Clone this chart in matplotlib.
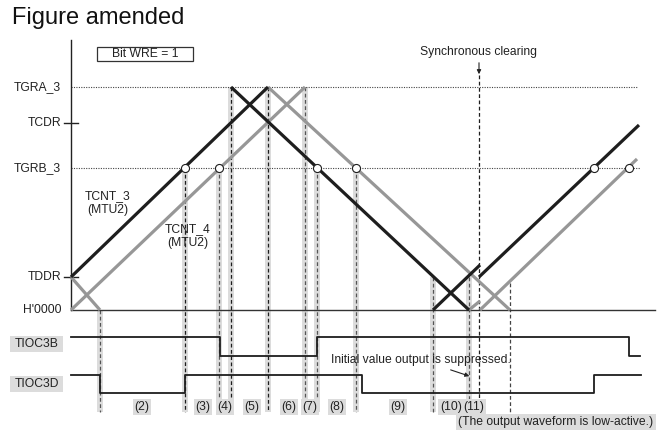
import matplotlib.pyplot as plt
from matplotlib.patches import Rectangle

plt.rcParams['font.family'] = ['Liberation Sans', 'DejaVu Sans']

# =========================
# data (time axis in ticks, counter values in counts)
# =========================

level_names = ["TGRA_3", "TCDR", "TGRB_3", "TDDR", "H'0000"]
level_vals = [223, 187, 142, 33, 0]

# TCNT_3 (black) segments: (t0, t1), (v0, v1)
tcnt3_t = [(0, 197), (160, 398), (362, 409), (408, 568)]
tcnt3_v = [(33, 223), (223, 0), (0, 45), (33, 185)]

# TCNT_4 (gray) segments
tcnt4_t = [(0, 29), (0, 234), (197, 439), (398, 409), (409, 566)]
tcnt4_v = [(33, 0), (0, 223), (223, 0), (0, 9), (0, 151)]

# compare match points on TGRB_3
match_t = [114, 148, 246, 285, 523, 558]

# shaded event bands
band_t = [29, 114, 148, 160, 197, 234, 246, 285, 362, 398]
band_top = [0, 142, 142, 223, 223, 223, 142, 142, 33, 33]
band_dark = [False, True, False, True, True, False, False, False, False, False]

sync_t = 408
end_t = 439

# output waveforms (1 = high)
tioc3b_t = [0, 149, 246, 558, 569]
tioc3b_v = [1, 0, 1, 0, 0]
tioc3d_t = [0, 29, 114, 291, 523, 570]
tioc3d_v = [1, 0, 1, 0, 1, 1]

period_names = ["(2)", "(3)", "(4)", "(5)", "(6)", "(7)", "(8)", "(9)", "(10)", "(11)"]
period_t = [71, 132, 154, 181, 218, 239, 266, 327, 380, 403]

# =========================
# figure
# =========================

BLACK = "#1e1e1e"
GRAY = "#979797"
BAND = "#dcdcdc"
FS = 8.7

fig = plt.figure(figsize=(6.59, 4.32), dpi=100)
ax = fig.add_axes([0, 0, 1, 1])
ax.set_xlim(-71, 588)
ax.set_ylim(-122, 310)
ax.axis("off")

fig.text(12 / 659, 1 - 24 / 432, "Figure amended", fontsize=17,
         va="baseline", ha="left", color="#111111")

band_bottom = -102

# bands + dashed lines
for t, top, dark in zip(band_t, band_top, band_dark):
    ax.add_patch(Rectangle((t - 3, band_bottom), 6, top - band_bottom,
                           facecolor=BAND, edgecolor="none", zorder=0))
    ax.plot([t, t], [top, band_bottom], color=BLACK if dark else "#555555",
            lw=0.9, linestyle=(0, (3, 2)), zorder=1)

ax.plot([sync_t, sync_t], [235, band_bottom], color=BLACK, lw=0.9,
        linestyle=(0, (3, 2)), zorder=1)
ax.plot([end_t, end_t], [27, band_bottom], color="#444444", lw=0.9,
        linestyle=(0, (3, 2)), zorder=1)

# reference levels
ax.plot([0, 566], [level_vals[0]] * 2, color="#444444", lw=0.8,
        linestyle=(0, (1, 1.2)), zorder=1)
ax.plot([0, 569], [level_vals[2]] * 2, color="#444444", lw=0.8,
        linestyle=(0, (1, 1.2)), zorder=1)
ax.plot([0, 584], [0, 0], color="#333333", lw=1.0, zorder=1)
ax.plot([0, 0], [0, 270], color="#222222", lw=1.0, zorder=1)
for v in (level_vals[1], level_vals[3]):
    ax.plot([-7, 7], [v, v], color="#222222", lw=1.0, zorder=1)

for name, v in zip(level_names, level_vals):
    ax.text(-10, v, name, fontsize=FS, ha="right", va="center", color="#222222")

# counters
for t, v in zip(tcnt4_t, tcnt4_v):
    ax.plot(t, v, color=GRAY, lw=2.3, solid_capstyle="butt", zorder=2)
for t, v in zip(tcnt3_t, tcnt3_v):
    ax.plot(t, v, color=BLACK, lw=2.3, solid_capstyle="butt", zorder=3)

ax.plot(match_t, [level_vals[2]] * len(match_t), "o", ms=5.8,
        mfc="white", mec=BLACK, mew=0.8, zorder=4)

ax.text(37, 107, "TCNT_3\n(MTU2)", fontsize=FS, ha="center", va="center",
        color="#222222", linespacing=1.3)
ax.text(117, 74, "TCNT_4\n(MTU2)", fontsize=FS, ha="center", va="center",
        color="#222222", linespacing=1.3)

# WRE box
ax.add_patch(Rectangle((26, 249), 96, 14, facecolor="white",
                       edgecolor="#333333", lw=0.9, zorder=3))
ax.text(74, 256, "Bit WRE = 1", fontsize=FS, ha="center", va="center",
        color="#222222", zorder=4)

# synchronous clearing
ax.text(sync_t, 258, "Synchronous clearing", fontsize=FS, ha="center",
        va="center", color="#222222")
ax.annotate("", xy=(sync_t, 233), xytext=(sync_t, 250),
            arrowprops=dict(arrowstyle="-|>", color="#222222", lw=0.8,
                            mutation_scale=6))

# output waveforms
b_hi, b_lo = -27, -46
d_hi, d_lo = -65, -83
ax.step(tioc3b_t, [b_hi if s else b_lo for s in tioc3b_v], where="post",
        color=BLACK, lw=1.3, zorder=3)
ax.step(tioc3d_t, [d_hi if s else d_lo for s in tioc3d_v], where="post",
        color=BLACK, lw=1.3, zorder=3)

for name, yc in (("TIOC3B", -34), ("TIOC3D", -74)):
    ax.add_patch(Rectangle((-61, yc - 8), 53, 16, facecolor=BAND,
                           edgecolor="none", zorder=1))
    ax.text(-34.5, yc, name, fontsize=FS, ha="center", va="center",
            color="#222222", zorder=2)

for name, t in zip(period_names, period_t):
    ax.text(t, -97, name, fontsize=FS, ha="center", va="center",
            color="#222222", zorder=3,
            bbox=dict(facecolor=BAND, edgecolor="none", pad=1.2))

ax.text(485, -112, "(The output waveform is low-active.)", fontsize=FS,
        ha="center", va="center", color="#222222", zorder=3,
        bbox=dict(facecolor=BAND, edgecolor="none", pad=1.6))

ax.text(350, -50, "Initial value output is suppressed.", fontsize=FS,
        ha="center", va="center", color="#222222", zorder=3)
ax.annotate("", xy=(401, -67), xytext=(377, -59),
            arrowprops=dict(arrowstyle="-|>", color="#222222", lw=0.8,
                            mutation_scale=6))

fig.savefig("out.png", dpi=100)
